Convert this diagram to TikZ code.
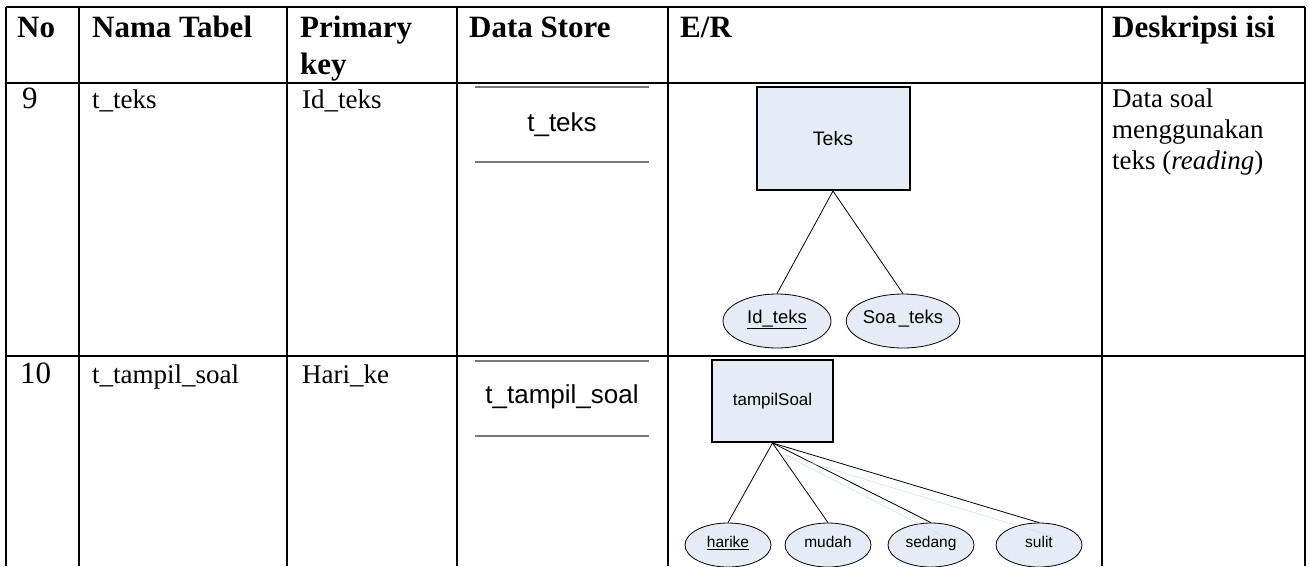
\documentclass[tikz,border=0pt]{standalone}
\usepackage{fontspec}
\setmainfont{Liberation Serif}
\newfontfamily\arialfont{Liberation Sans}
\usepackage{xcolor}
\usetikzlibrary{shapes.geometric, positioning}
\definecolor{entfill}{RGB}{230,236,246}
\definecolor{storegray}{RGB}{120,120,120}
\definecolor{ghostblue}{RGB}{205,218,240}
\tikzstyle{grid} = [line width=2.5pt]
\tikzstyle{head} = [anchor=base west, inner sep=0pt, font=\fontsize{31}{37}\selectfont\bfseries]
\tikzstyle{cell} = [anchor=base west, inner sep=0pt, font=\fontsize{27}{31}\selectfont]
\tikzstyle{num} = [anchor=base west, inner sep=0pt, font=\fontsize{31}{36}\selectfont]
\tikzstyle{store} = [inner sep=0pt, font=\arialfont\fontsize{26}{30}\selectfont]
\tikzstyle{storeline} = [draw=storegray, line width=1.5pt]
\tikzstyle{entity} = [draw=black, line width=2pt, fill=entfill, inner sep=0pt]
\tikzstyle{attrib} = [ellipse, draw=black, line width=0.8pt, fill=entfill, inner sep=0pt,
	text height=0.72em, text depth=0.2em]
\tikzstyle{link} = [line width=0.8pt]
\tikzstyle{ghostline} = [draw=ghostblue, line width=0.5pt]

\begin{document}
\begin{tikzpicture}[x=1pt, y=-1pt]
		\useasboundingbox (0,0) rectangle (1309,566);
		% table rules
		\draw[grid] (6,7) -- (1305,7);
		\draw[grid] (6,83) -- (1305,83);
		\draw[grid] (6,356) -- (1305,356);
		\foreach \x in {6,79,287,457,668,1102,1305}
			\draw[grid] (\x,7) -- (\x,566);

		% header
		\node[head] (hno) at (17,37) {No};
		\node[head] (hnama) at (92,37) {Nama Tabel};
		\node[head, anchor=north west, align=left] (hkey) at (300,15.5) {Primary\\key};
		\node[head] (hstore) at (469,37) {Data Store};
		\node[head] (her) at (680,37) {E/R};
		\node[head] (hdesc) at (1112,37) {Deskripsi isi};

		% row 9
		\node[num] (no9) at (22,108) {9};
		\node[cell] (nama9) at (92,108) {t\_teks};
		\node[cell] (pk9) at (302,108) {Id\_teks};
		\node[store] (store9) at (562,125) {t\_teks};
		\draw[storeline] (475,87) -- (649,87);
		\draw[storeline] (475,162) -- (649,162);
		\node[entity, minimum width=153pt, minimum height=103pt,
			font=\arialfont\fontsize{19.5}{22}\selectfont] (teks) at (833,138.5) {Teks};
		\node[attrib, minimum width=108pt, minimum height=54pt,
			font=\arialfont\fontsize{18.5}{21}\selectfont] (idteks) at (777,321) {\underline{Id\_teks}};
		\node[attrib, minimum width=112pt, minimum height=54pt,
			font=\arialfont\fontsize{18.5}{21}\selectfont] (soateks) at (903,321) {Soa\,\_teks};
		\draw[link] (teks.south) -- (idteks.north);
		\draw[link] (teks.south) -- (soateks.north);
		\node[cell, anchor=north west, align=left] (desc9) at (1112,89) {Data soal\\menggunakan\\teks (\textit{reading})};

		% row 10
		\node[num] (no10) at (20,383) {10};
		\node[cell] (nama10) at (92,383) {t\_tampil\_soal};
		\node[cell] (pk10) at (302,383) {Hari\_ke};
		\node[store] (store10) at (562,397) {t\_tampil\_soal};
		\draw[storeline] (475,361) -- (649,361);
		\draw[storeline] (475,436) -- (649,436);
		\node[entity, minimum width=121pt, minimum height=82pt,
			font=\arialfont\fontsize{17}{20}\selectfont] (tampil) at (772.5,401) {tampilSoal};
		\node[attrib, minimum width=86pt, minimum height=44pt,
			font=\arialfont\fontsize{15.5}{18}\selectfont] (harike) at (728,545) {\underline{harike}};
		\node[attrib, minimum width=86pt, minimum height=44pt,
			font=\arialfont\fontsize{15.5}{18}\selectfont] (mudah) at (828,545) {mudah};
		\node[attrib, minimum width=86pt, minimum height=44pt,
			font=\arialfont\fontsize{15.5}{18}\selectfont] (sedang) at (931,545) {sedang};
		\node[attrib, minimum width=86pt, minimum height=44pt,
			font=\arialfont\fontsize{15.5}{18}\selectfont] (sulit) at (1039,545) {sulit};
		\draw[link] (tampil.south) -- (harike.north);
		\draw[link] (tampil.south) -- (mudah.north);
		\draw[link] (tampil.south) -- (sedang.north);
		\draw[link] (tampil.south) -- (sulit.north);
		\coordinate (g0) at (785,455);
		\draw[ghostline] (g0) -- ([xshift=13pt,yshift=-14pt]sedang.north);
		\draw[ghostline] (g0) -- ([xshift=14pt,yshift=-14pt]sulit.north);
\end{tikzpicture}
\end{document}
